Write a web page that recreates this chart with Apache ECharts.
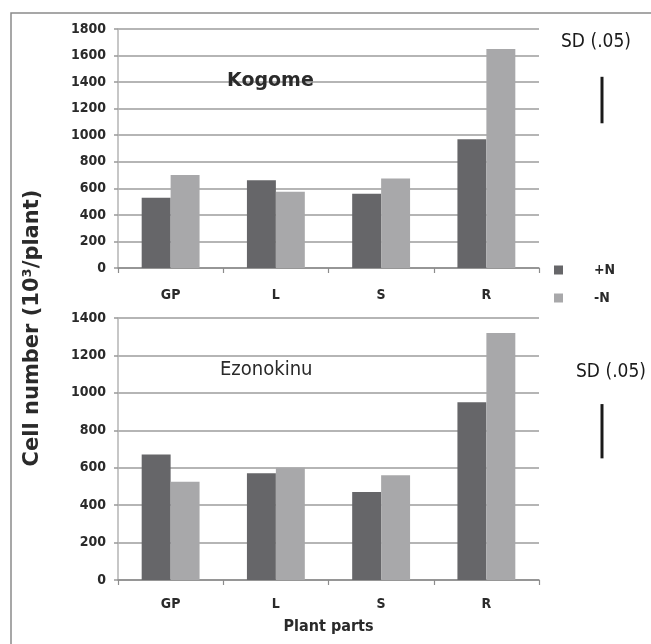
<!DOCTYPE html>
<html>
<head>
<meta charset="utf-8">
<script src="https://cdn.jsdelivr.net/npm/echarts@6/dist/echarts.min.js"></script>
<style>
html,body{margin:0;padding:0;background:#fff;}
#c{width:651px;height:644px;}
</style>
</head>
<body>
<div id="c"></div>
<script>
const categories = ['GP', 'L', 'S', 'R'];
const kogomePlusN = [530, 660, 560, 970];
const kogomeMinusN = [700, 575, 675, 1650];
const ezonoPlusN = [670, 570, 470, 950];
const ezonoMinusN = [525, 600, 560, 1320];
const kogomeTicks = [0, 1800, 200];
const ezonoTicks = [0, 1400, 200];
const sdKogome = [1090, 1440];
const sdEzono = [650, 940];

const FONT = '"DejaVu Sans Condensed", "Liberation Sans Narrow", sans-serif';
const DARK = '#666669';
const LIGHT = '#a8a8aa';

const chart = echarts.init(document.getElementById('c'));

function yAxis(idx, t) {
  return {
    gridIndex: idx, type: 'value', min: t[0], max: t[1], interval: t[2],
    axisLine: {show: true, lineStyle: {color: '#b4b4b4', width: 1.5}},
    axisTick: {show: true, length: 4, lineStyle: {color: '#999', width: 1.5}},
    splitLine: {lineStyle: {color: '#9c9c9c', width: 1.5}},
    axisLabel: {color: '#2a2a2a', fontFamily: FONT, fontWeight: 'bold', fontSize: 14, margin: 12,
                formatter: function (v) { return String(v); }}
  };
}
function xAxis(idx, name) {
  return {
    gridIndex: idx, type: 'category', data: categories,
    axisLine: {lineStyle: {color: '#8c8c8c', width: 1.5}},
    axisTick: {show: true, length: 5, lineStyle: {color: '#8c8c8c', width: 1.2}},
    axisLabel: {color: '#2a2a2a', fontFamily: FONT, fontWeight: 'bold', fontSize: 14, margin: idx === 0 ? 20 : 17},
    name: name, nameLocation: 'middle', nameGap: 39,
    nameTextStyle: {color: '#2a2a2a', fontFamily: FONT, fontWeight: 'bold', fontSize: 16}
  };
}
function barSeries(name, x, y, data, color) {
  return {
    name: name, type: 'bar', xAxisIndex: x, yAxisIndex: y, data: data,
    barGap: '0%', barCategoryGap: '45%',
    itemStyle: {color: color}
  };
}

chart.setOption({
  animation: false,
  backgroundColor: '#fff',
  grid: [
    {left: 118, top: 29, width: 421, height: 239},
    {left: 118, top: 318, width: 421, height: 262}
  ],
  xAxis: [xAxis(0, ''), xAxis(1, 'Plant parts')],
  yAxis: [yAxis(0, kogomeTicks), yAxis(1, ezonoTicks)],
  legend: {
    orient: 'vertical', left: 549, top: 258, itemWidth: 9, itemHeight: 9, itemGap: 14,
    icon: 'rect',
    data: ['+N', '-N'],
    textStyle: {color: '#2a2a2a', fontFamily: FONT, fontWeight: 'bold', fontSize: 14, padding: [0, 0, 0, 26]}
  },
  series: [
    barSeries('+N', 0, 0, kogomePlusN, DARK),
    barSeries('-N', 0, 0, kogomeMinusN, LIGHT),
    barSeries('+N', 1, 1, ezonoPlusN, DARK),
    barSeries('-N', 1, 1, ezonoMinusN, LIGHT)
  ]
});

const xSD = 602;
function sdLine(idx, range) {
  const y1 = chart.convertToPixel({yAxisIndex: idx}, range[0]);
  const y2 = chart.convertToPixel({yAxisIndex: idx}, range[1]);
  return {type: 'line', shape: {x1: xSD, y1: y1, x2: xSD, y2: y2}, style: {stroke: '#1a1a1a', lineWidth: 3}};
}

chart.setOption({
  graphic: [
    {type: 'polyline', shape: {points: [[11, 644], [11, 13], [651, 13]]}, style: {stroke: '#8a8a8a', lineWidth: 1.5, fill: null}},
    {type: 'text', x: 227, y: 81, style: {text: 'Kogome', font: 'bold 19px "DejaVu Sans", sans-serif', fill: '#2a2a2a', verticalAlign: 'middle'}},
    {type: 'text', x: 220, y: 370, style: {text: 'Ezonokinu', font: '20px "DejaVu Sans Condensed", sans-serif', fill: '#2a2a2a', verticalAlign: 'middle'}},
    {type: 'text', x: 596, y: 42, style: {text: 'SD (.05)', font: '19px ' + FONT, fill: '#1a1a1a', align: 'center', verticalAlign: 'middle'}},
    {type: 'text', x: 611, y: 372, style: {text: 'SD (.05)', font: '19px ' + FONT, fill: '#1a1a1a', align: 'center', verticalAlign: 'middle'}},
    sdLine(0, sdKogome),
    sdLine(1, sdEzono),
    {type: 'text', x: 33, y: 328, rotation: Math.PI / 2,
     style: {text: 'Cell number (10³/plant)', font: 'bold 21px "DejaVu Sans", sans-serif', fill: '#2a2a2a', align: 'center', verticalAlign: 'middle'}}
  ]
});
</script>
</body>
</html>
